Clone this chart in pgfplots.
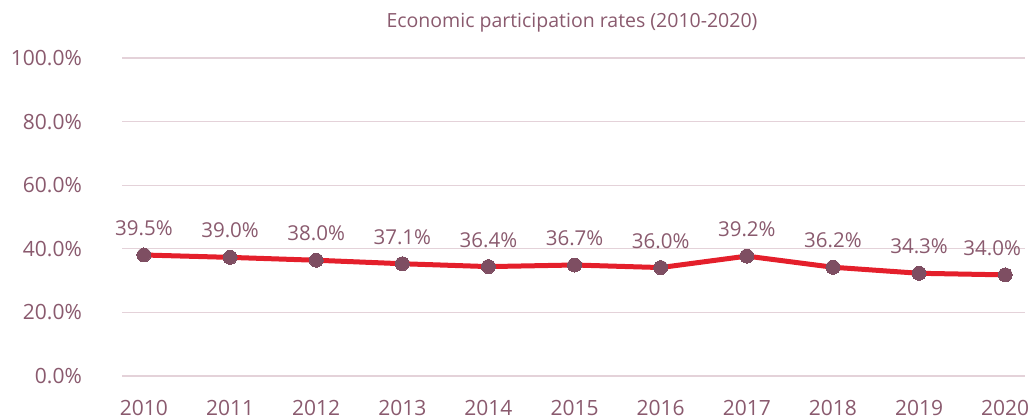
\documentclass[border=0pt]{standalone}
\usepackage{pgfplots}
\pgfplotsset{compat=1.18}
\usepackage{fontspec}
\setmainfont{Open Sans}
\definecolor{txt}{HTML}{8A5A6E}
\definecolor{mk}{HTML}{7E4E62}
\definecolor{ln}{HTML}{E41F2B}
\definecolor{grd}{HTML}{E4D2D9}
\begin{document}
\begin{tikzpicture}[x=1pt,y=1pt]
\path[use as bounding box] (0,0) rectangle (1028,419);
\node[font=\fontsize{19.5}{22}\selectfont, text=txt, inner sep=0pt] at (572,396) {Economic participation rates (2010-2020)};
\begin{axis}[
  at={(122pt,43pt)}, anchor=south west,
  scale only axis, width=903pt, height=318pt,
  xmin=2009.745, xmax=2020.23,
  ymin=0, ymax=100,
  axis line style={draw=none},
  tick style={draw=none},
  xtick={2010,2011,2012,2013,2014,2015,2016,2017,2018,2019,2020},
  xticklabels={2010,2011,2012,2013,2014,2015,2016,2017,2018,2019,2020},
  ytick={0,20,40,60,80,100},
  yticklabels={0.0\%,20.0\%,40.0\%,60.0\%,80.0\%,100.0\%},
  ymajorgrids,
  major grid style={draw=grd, line width=1.3pt},
  yticklabel style={anchor=east, inner sep=0pt, xshift=-40pt, text=txt, font=\fontsize{21}{23}\selectfont},
  xticklabel style={anchor=north, inner sep=0pt, yshift=-24pt, text=txt, font=\fontsize{21}{23}\selectfont},
  clip=false,
]
\addplot[draw=ln, line width=5pt, mark=*, mark size=7pt,
  mark options={draw=mk, fill=mk, line width=0pt},
] table {
x y
2010 38.05
2011 37.3
2012 36.4
2013 35.3
2014 34.4
2015 34.9
2016 34.1
2017 37.7
2018 34.2
2019 32.3
2020 31.8
};
\addplot[draw=none, mark=none,
  point meta=explicit symbolic,
  nodes near coords={\pgfplotspointmeta\%},
  every node near coord/.append style={anchor=south, inner sep=0pt, yshift=19pt, text=txt, font=\fontsize{20.5}{22}\selectfont},
] table[meta=lab] {
x y lab
2010 38.05 39.5
2011 37.3 39.0
2012 36.4 38.0
2013 35.3 37.1
2014 34.4 36.4
2015 34.9 36.7
2016 34.1 36.0
2017 37.7 39.2
2018 34.2 36.2
2019 32.3 34.3
};
\addplot[draw=none, mark=none,
  point meta=explicit symbolic,
  nodes near coords={\pgfplotspointmeta\%},
  every node near coord/.append style={anchor=south, inner sep=0pt, yshift=19pt, xshift=-13pt, text=txt, font=\fontsize{20.5}{22}\selectfont},
] table[meta=lab] {
x y lab
2020 31.8 34.0
};
\end{axis}
\end{tikzpicture}
\end{document}
